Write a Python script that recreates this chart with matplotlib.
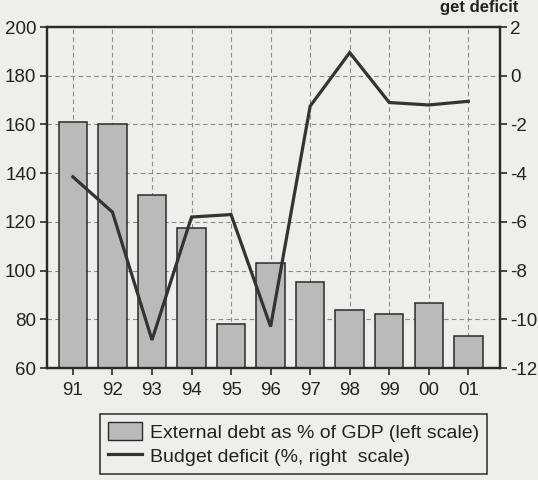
import matplotlib

matplotlib.use("Agg")
import matplotlib.pyplot as plt
from matplotlib.patches import Patch
from matplotlib.lines import Line2D
import numpy as np

plt.rcParams["font.family"] = ["Liberation Sans", "DejaVu Sans"]
plt.rcParams["axes.unicode_minus"] = False

# data (years 1991-2001)
years = ["91", "92", "93", "94", "95", "96", "97", "98", "99", "00", "01"]
external_debt = [161, 160, 131, 117.5, 78, 103, 95.5, 84, 82, 86.5, 73]  # % of GDP, left
budget_deficit = [-4.15, -5.6, -10.85, -5.8, -5.7, -10.3, -1.25, 0.95, -1.1, -1.2, -1.05]  # %, right

left_ticks = [60, 80, 100, 120, 140, 160, 180, 200]
right_ticks = [-12, -10, -8, -6, -4, -2, 0, 2]

BG = "#eeeeec"
INK = "#2a2a2a"
BAR = "#bababa"

fig = plt.figure(figsize=(5.38, 4.8), dpi=100, facecolor=BG)
ax = fig.add_axes([0.087, 0.2333, 0.843, 0.7104])
ax.set_facecolor(BG)
x = np.arange(len(years))

ax.bar(x, external_debt, width=0.72, bottom=0, color=BAR, edgecolor=INK, linewidth=1.1, zorder=2)
ax.set_ylim(60, 200)
ax.set_xlim(-0.66, 10.81)
ax.set_yticks(left_ticks)
ax.set_xticks(x)
ax.set_xticklabels(years)
ax.set_axisbelow(True)
ax.grid(True, ls=(0, (4, 3)), lw=0.8, color="#8a8a8a")

ax2 = ax.twinx()
ax2.plot(x, budget_deficit, color="#333333", lw=2.3, solid_joinstyle="miter", zorder=3)
ax2.set_ylim(-12, 2)
ax2.set_yticks(right_ticks)

for a in (ax, ax2):
    for s in a.spines.values():
        s.set_color(INK)
        s.set_linewidth(1.6)
    a.tick_params(direction="out", length=5, width=1.2, color=INK,
                  labelsize=13.5, labelcolor="#222222", pad=2.5)
ax.tick_params(axis="x", pad=5)
ax2.tick_params(axis="y", pad=2)

handles = [
    Patch(facecolor=BAR, edgecolor=INK, linewidth=1.0),
    Line2D([0], [0], color="#333333", lw=2.3),
]
labels = ["External debt as % of GDP (left scale)", "Budget deficit (%, right  scale)"]
leg = fig.legend(handles, labels, loc="upper left", bbox_to_anchor=(0.186, 0.1375),
                 fontsize=14, frameon=True, fancybox=False, framealpha=1,
                 facecolor=BG, edgecolor=INK, borderpad=0.4, handlelength=1.75,
                 handleheight=1.08, handletextpad=0.4, labelspacing=0.25,
                 borderaxespad=0)
leg.get_frame().set_linewidth(1.1)
for t in leg.get_texts():
    t.set_color("#222222")

# top-right fragment of the page heading, cut off by the scan
fig.text(0.963, 1 - 12 / 480, "get deficit", ha="right", va="baseline",
         fontsize=12, fontweight="bold", color="#222222")

fig.savefig("out.png", dpi=100, facecolor=BG)
